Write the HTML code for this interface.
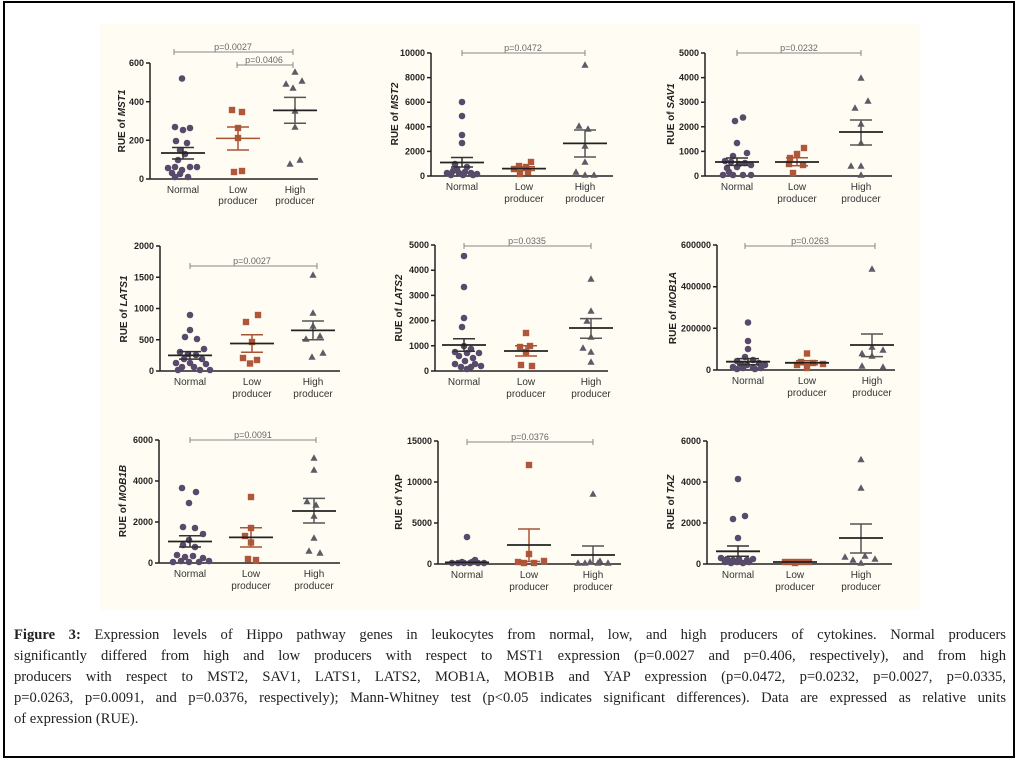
<!DOCTYPE html>
<html><head><meta charset="utf-8"><style>
html,body{margin:0;padding:0;background:#fff}
body{width:1021px;height:762px;position:relative;overflow:hidden}
svg{position:absolute;left:0;top:0}
.tk{font:bold 9px "Liberation Sans",sans-serif;fill:#222;text-anchor:end}
.ttl{font:bold 10px "Liberation Sans",sans-serif;fill:#222;text-anchor:middle}
.cat{font:10px "Liberation Sans",sans-serif;fill:#333;text-anchor:middle}
.pv{font:9px "Liberation Sans",sans-serif;fill:#666;text-anchor:middle}
.ax{stroke:#222;stroke-width:1.5;fill:none}
.pb{stroke:#888;stroke-width:1;fill:none}
.m{stroke:#222;stroke-width:1.8}
.sN{stroke:#333;stroke-width:1.5;fill:none}
.sL{stroke:#a85535;stroke-width:1.5;fill:none}
.sH{stroke:#555;stroke-width:1.5;fill:none}
#cap{position:absolute;left:14px;top:625px;width:992px;font:14.6px "Liberation Serif",serif;color:#222;line-height:21px}
#cap div{text-align:justify;text-align-last:justify;white-space:nowrap}
#cap div.last{text-align-last:left}
</style></head><body>
<svg width="1021" height="762" viewBox="0 0 1021 762">
<defs>
<circle id="c" r="3.3" fill="#574a6b"/>
<rect id="s" x="-3.2" y="-3.2" width="6.4" height="6.4" fill="#b0563a"/>
<polygon id="t" points="0,-3.8 3.6,2.8 -3.6,2.8" fill="#5f5a66"/>
</defs>
<rect x="4" y="2" width="1010" height="755" fill="#fff" stroke="#000" stroke-width="2"/>
<rect x="100" y="24" width="820" height="586" fill="#fffdf3"/>

<!-- MST1 -->
<g transform="translate(150,179)">
<path class="ax" d="M0,-116V0H168M-4,-116H0M-4,-77.3H0M-4,-38.7H0M-4,0H0"/>
<text class="tk" x="-6" y="-113">600</text><text class="tk" x="-6" y="-74">400</text><text class="tk" x="-6" y="-35.5">200</text><text class="tk" x="-6" y="3">0</text>
<text class="ttl" transform="translate(-25,-58) rotate(-90)">RUE of <tspan font-style="italic">MST1</tspan></text>
<path class="pb" d="M24,-127H143M24,-130v6M143,-130v6M87,-114H143M87,-117v6M143,-117v6"/>
<text class="pv" x="83" y="-129">p=0.0027</text><text class="pv" x="114" y="-116">p=0.0406</text>
<use href="#c" x="32" y="-100.5"/><use href="#c" x="25" y="-52"/><use href="#c" x="33" y="-49"/><use href="#c" x="40" y="-51"/><use href="#c" x="26" y="-38"/><use href="#c" x="37" y="-36"/><use href="#c" x="30" y="-29"/><use href="#c" x="35" y="-25"/><use href="#c" x="28" y="-19"/><use href="#c" x="18" y="-11"/><use href="#c" x="25" y="-12"/><use href="#c" x="40" y="-12"/><use href="#c" x="47" y="-12"/><use href="#c" x="32" y="-9"/><use href="#c" x="22" y="-6"/><use href="#c" x="30" y="-5"/><use href="#c" x="25" y="-2"/><use href="#c" x="38" y="-2"/>
<use href="#s" x="82" y="-69"/><use href="#s" x="92" y="-67"/><use href="#s" x="88" y="-51"/><use href="#s" x="88" y="-41"/><use href="#s" x="84" y="-7"/><use href="#s" x="92" y="-8"/>
<use href="#t" x="145" y="-107"/><use href="#t" x="136" y="-95"/><use href="#t" x="143" y="-91"/><use href="#t" x="152" y="-98"/><use href="#t" x="145" y="-68"/><use href="#t" x="145" y="-52"/><use href="#t" x="140" y="-15"/><use href="#t" x="150" y="-19"/>
<path class="sN" d="M22,-20H44M22,-31.5H44M33,-20V-31.5"/><path class="m" d="M11,-26H55"/>
<path class="sL" d="M77,-29H99M77,-52H99M88,-29V-52M66,-40.6H110"/>
<path class="sH" d="M134,-55.7H156M134,-81.6H156M145,-55.7V-81.6"/><path class="m" d="M123,-68.6H167"/>
<text class="cat" x="33" y="14">Normal</text><text class="cat" x="88" y="14">Low</text><text class="cat" x="88" y="25">producer</text><text class="cat" x="145" y="14">High</text><text class="cat" x="145" y="25">producer</text>
</g>

<!-- MST2 -->
<g transform="translate(431,176)">
<path class="ax" d="M0,-123V0H182M-4,-123H0M-4,-98.4H0M-4,-73.8H0M-4,-49.2H0M-4,-24.6H0M-4,0H0"/>
<text class="tk" x="-6" y="-120">10000</text><text class="tk" x="-6" y="-95.4">8000</text><text class="tk" x="-6" y="-70.8">6000</text><text class="tk" x="-6" y="-46.2">4000</text><text class="tk" x="-6" y="-21.6">2000</text><text class="tk" x="-6" y="3">0</text>
<text class="ttl" transform="translate(-33,-62) rotate(-90)">RUE of <tspan font-style="italic">MST2</tspan></text>
<path class="pb" d="M31,-123H154M31,-126v6M154,-126v6"/><text class="pv" x="92" y="-125">p=0.0472</text>
<use href="#c" x="31" y="-74"/><use href="#c" x="31" y="-60"/><use href="#c" x="31" y="-41"/><use href="#c" x="31" y="-33"/><use href="#c" x="24" y="-12"/><use href="#c" x="36" y="-9"/><use href="#c" x="16" y="-3"/><use href="#c" x="22" y="-5"/><use href="#c" x="28" y="-3"/><use href="#c" x="34" y="-4"/><use href="#c" x="40" y="-3"/><use href="#c" x="46" y="-2"/><use href="#c" x="20" y="-1"/><use href="#c" x="32" y="-1"/><use href="#c" x="42" y="-1"/><use href="#c" x="26" y="-7"/>
<use href="#s" x="100" y="-14"/><use href="#s" x="88" y="-10"/><use href="#s" x="95" y="-9"/><use href="#s" x="83" y="-7"/><use href="#s" x="97" y="-4"/><use href="#s" x="89" y="-2"/>
<use href="#t" x="154" y="-111"/><use href="#t" x="148" y="-50"/><use href="#t" x="157" y="-47"/><use href="#t" x="154" y="-30"/><use href="#t" x="154" y="-14"/><use href="#t" x="145" y="-4"/><use href="#t" x="154" y="-1"/><use href="#t" x="163" y="-1"/>
<path class="sN" d="M20,-9H42M20,-18.5H42M31,-9V-18.5"/><path class="m" d="M9,-13.5H53"/>
<path class="sL" d="M82,-5.5H104M82,-9.2H104"/><path class="m" d="M71,-7.4H115"/>
<path class="sH" d="M143,-19H165M143,-46H165M154,-19V-46"/><path class="m" d="M132,-32.6H176"/>
<text class="cat" x="31" y="14">Normal</text><text class="cat" x="93" y="14">Low</text><text class="cat" x="93" y="26">producer</text><text class="cat" x="154" y="14">High</text><text class="cat" x="154" y="26">producer</text>
</g>

<!-- SAV1 -->
<g transform="translate(705,176)">
<path class="ax" d="M0,-123V0H187M-4,-123H0M-4,-98.4H0M-4,-73.8H0M-4,-49.2H0M-4,-24.6H0M-4,0H0"/>
<text class="tk" x="-6" y="-120">5000</text><text class="tk" x="-6" y="-95.4">4000</text><text class="tk" x="-6" y="-70.8">3000</text><text class="tk" x="-6" y="-46.2">2000</text><text class="tk" x="-6" y="-21.6">1000</text><text class="tk" x="-6" y="3">0</text>
<text class="ttl" transform="translate(-31,-62) rotate(-90)">RUE of <tspan font-style="italic">SAV1</tspan></text>
<path class="pb" d="M32,-123H156M32,-126v6M156,-126v6"/><text class="pv" x="94" y="-125">p=0.0232</text>
<use href="#c" x="30" y="-55"/><use href="#c" x="38" y="-58.5"/><use href="#c" x="32" y="-33"/><use href="#c" x="42" y="-23"/><use href="#c" x="28" y="-20"/><use href="#c" x="20" y="-15"/><use href="#c" x="26" y="-14"/><use href="#c" x="34" y="-12"/><use href="#c" x="40" y="-13"/><use href="#c" x="46" y="-11"/><use href="#c" x="32" y="-9"/><use href="#c" x="24" y="-4"/><use href="#c" x="18" y="-1"/><use href="#c" x="28" y="-1"/><use href="#c" x="38" y="-1"/><use href="#c" x="46" y="-1"/><use href="#c" x="22" y="-8"/>
<use href="#s" x="99" y="-28"/><use href="#s" x="92" y="-22"/><use href="#s" x="85" y="-18"/><use href="#s" x="84" y="-12"/><use href="#s" x="98" y="-11"/><use href="#s" x="88" y="-3"/>
<use href="#t" x="156" y="-98"/><use href="#t" x="163" y="-75"/><use href="#t" x="150" y="-68"/><use href="#t" x="156" y="-52"/><use href="#t" x="156" y="-33"/><use href="#t" x="146" y="-10"/><use href="#t" x="156" y="-10"/><use href="#t" x="156" y="-1"/>
<path class="sN" d="M21,-10.6H43M21,-18H43M32,-10.6V-18"/><path class="m" d="M10,-14H54"/>
<path class="sL" d="M81,-10.3H103M81,-18.2H103M92,-10.3V-18.2"/><path class="m" d="M70,-14H114"/>
<path class="sH" d="M145,-31H167M145,-56H167M156,-31V-56"/><path class="m" d="M134,-44H178"/>
<text class="cat" x="32" y="14">Normal</text><text class="cat" x="92" y="14">Low</text><text class="cat" x="92" y="26">producer</text><text class="cat" x="156" y="14">High</text><text class="cat" x="156" y="26">producer</text>
</g>

<!-- LATS1 -->
<g transform="translate(160,371)">
<path class="ax" d="M0,-125V0H180M-4,-125H0M-4,-93.75H0M-4,-62.5H0M-4,-31.25H0M-4,0H0"/>
<text class="tk" x="-6" y="-122">2000</text><text class="tk" x="-6" y="-90.75">1500</text><text class="tk" x="-6" y="-59.5">1000</text><text class="tk" x="-6" y="-28.25">500</text><text class="tk" x="-6" y="3">0</text>
<text class="ttl" transform="translate(-33,-62) rotate(-90)">RUE of <tspan font-style="italic">LATS1</tspan></text>
<path class="pb" d="M30,-105H157M30,-108v6M157,-108v6"/><text class="pv" x="92" y="-107">p=0.0027</text>
<use href="#c" x="30" y="-56"/><use href="#c" x="30" y="-41"/><use href="#c" x="25" y="-34"/><use href="#c" x="37" y="-32"/><use href="#c" x="44" y="-22"/><use href="#c" x="20" y="-19"/><use href="#c" x="28" y="-17"/><use href="#c" x="36" y="-16"/><use href="#c" x="24" y="-12"/><use href="#c" x="42" y="-12"/><use href="#c" x="16" y="-8"/><use href="#c" x="30" y="-8"/><use href="#c" x="46" y="-7"/><use href="#c" x="22" y="-4"/><use href="#c" x="34" y="-4"/><use href="#c" x="18" y="-1"/><use href="#c" x="40" y="-1"/><use href="#c" x="50" y="-1"/>
<use href="#s" x="98" y="-56"/><use href="#s" x="86" y="-49"/><use href="#s" x="92" y="-29"/><use href="#s" x="83" y="-13"/><use href="#s" x="97" y="-11"/><use href="#s" x="90" y="-7.5"/>
<use href="#t" x="153" y="-96"/><use href="#t" x="153" y="-58"/><use href="#t" x="153" y="-45"/><use href="#t" x="146" y="-32"/><use href="#t" x="160" y="-35"/><use href="#t" x="163" y="-18"/><use href="#t" x="152" y="-14"/>
<path class="sN" d="M19,-11.9H41M19,-19.4H41M30,-11.9V-19.4"/><path class="m" d="M8,-15.6H52"/>
<path class="sL" d="M81,-18.8H103M81,-36.3H103M92,-18.8V-36.3"/><path class="m" d="M70,-27.5H114"/>
<path class="sH" d="M142,-31.3H164M142,-50H164M153,-31.3V-50"/><path class="m" d="M131,-40.6H175"/>
<text class="cat" x="30" y="14">Normal</text><text class="cat" x="92" y="14">Low</text><text class="cat" x="92" y="26">producer</text><text class="cat" x="153" y="14">High</text><text class="cat" x="153" y="26">producer</text>
</g>

<!-- LATS2 -->
<g transform="translate(435,371)">
<path class="ax" d="M0,-126V0H173M-4,-126H0M-4,-100.8H0M-4,-75.6H0M-4,-50.4H0M-4,-25.2H0M-4,0H0"/>
<text class="tk" x="-6" y="-123">5000</text><text class="tk" x="-6" y="-97.8">4000</text><text class="tk" x="-6" y="-72.6">3000</text><text class="tk" x="-6" y="-47.4">2000</text><text class="tk" x="-6" y="-22.2">1000</text><text class="tk" x="-6" y="3">0</text>
<text class="ttl" transform="translate(-33,-63) rotate(-90)">RUE of <tspan font-style="italic">LATS2</tspan></text>
<path class="pb" d="M29,-125H156M29,-128v6M156,-128v6"/><text class="pv" x="92" y="-127">p=0.0335</text>
<use href="#c" x="29" y="-115"/><use href="#c" x="29" y="-84"/><use href="#c" x="29" y="-53"/><use href="#c" x="27" y="-44"/><use href="#c" x="29" y="-25"/><use href="#c" x="36" y="-22"/><use href="#c" x="20" y="-19"/><use href="#c" x="32" y="-18"/><use href="#c" x="44" y="-18"/><use href="#c" x="24" y="-15"/><use href="#c" x="38" y="-13"/><use href="#c" x="30" y="-10"/><use href="#c" x="20" y="-7"/><use href="#c" x="46" y="-5"/><use href="#c" x="26" y="-4"/><use href="#c" x="36" y="-4"/><use href="#c" x="32" y="-2"/><use href="#c" x="40" y="-7"/>
<use href="#s" x="91" y="-38"/><use href="#s" x="95" y="-25"/><use href="#s" x="85" y="-24"/><use href="#s" x="91" y="-19"/><use href="#s" x="86" y="-6"/><use href="#s" x="97" y="-5"/>
<use href="#t" x="156" y="-92"/><use href="#t" x="156" y="-60"/><use href="#t" x="152" y="-50"/><use href="#t" x="156" y="-34"/><use href="#t" x="148" y="-23"/><use href="#t" x="156" y="-19"/><use href="#t" x="156" y="-9"/>
<path class="sN" d="M18,-19.7H40M18,-32.3H40M29,-19.7V-32.3"/><path class="m" d="M7,-26H51"/>
<path class="sL" d="M80,-15H102M80,-25.2H102M91,-15V-25.2"/><path class="m" d="M69,-20H113"/>
<path class="sH" d="M145,-32.8H167M145,-52.4H167M156,-32.8V-52.4"/><path class="m" d="M134,-43H178"/>
<text class="cat" x="29" y="14">Normal</text><text class="cat" x="91" y="14">Low</text><text class="cat" x="91" y="26">producer</text><text class="cat" x="156" y="14">High</text><text class="cat" x="156" y="26">producer</text>
</g>

<!-- MOB1A -->
<g transform="translate(717,370)">
<path class="ax" d="M0,-125V0H178M-4,-125H0M-4,-83.3H0M-4,-41.7H0M-4,0H0"/>
<text class="tk" x="-6" y="-122">600000</text><text class="tk" x="-6" y="-80.3">400000</text><text class="tk" x="-6" y="-38.7">200000</text><text class="tk" x="-6" y="3">0</text>
<text class="ttl" transform="translate(-41,-62) rotate(-90)">RUE of <tspan font-style="italic">MOB1A</tspan></text>
<path class="pb" d="M28,-124H158M28,-127v6M158,-127v6"/><text class="pv" x="93" y="-126">p=0.0263</text>
<use href="#c" x="31" y="-47.5"/><use href="#c" x="31" y="-29"/><use href="#c" x="31" y="-21"/><use href="#c" x="28" y="-13"/><use href="#c" x="20" y="-9"/><use href="#c" x="36" y="-10"/><use href="#c" x="24" y="-6"/><use href="#c" x="42" y="-7"/><use href="#c" x="30" y="-5"/><use href="#c" x="48" y="-5"/><use href="#c" x="16" y="-3"/><use href="#c" x="26" y="-2"/><use href="#c" x="36" y="-2"/><use href="#c" x="44" y="-2"/><use href="#c" x="20" y="-1"/><use href="#c" x="38" y="-1"/>
<use href="#s" x="90" y="-16.5"/><use href="#s" x="84" y="-8"/><use href="#s" x="96" y="-7"/><use href="#s" x="106" y="-6"/><use href="#s" x="80" y="-5"/><use href="#s" x="90" y="-2"/>
<use href="#t" x="155" y="-101"/><use href="#t" x="155" y="-23"/><use href="#t" x="166" y="-20"/><use href="#t" x="145" y="-16.5"/><use href="#t" x="155" y="-14"/><use href="#t" x="145" y="-4"/><use href="#t" x="166" y="-3"/>
<path class="sN" d="M20,-5.2H42M20,-11.4H42M31,-5.2V-11.4"/><path class="m" d="M9,-8.3H53"/>
<path class="sL" d="M79,-5.2H101M79,-9.3H101"/><path class="m" d="M68,-7.2H112"/>
<path class="sH" d="M144,-13.4H166M144,-36H166M155,-13.4V-36"/><path class="m" d="M133,-25H177"/>
<text class="cat" x="31" y="14">Normal</text><text class="cat" x="90" y="14">Low</text><text class="cat" x="90" y="26">producer</text><text class="cat" x="155" y="14">High</text><text class="cat" x="155" y="26">producer</text>
</g>

<!-- MOB1B -->
<g transform="translate(159,563)">
<path class="ax" d="M0,-123V0H181M-4,-123H0M-4,-82H0M-4,-41H0M-4,0H0"/>
<text class="tk" x="-6" y="-120">6000</text><text class="tk" x="-6" y="-79">4000</text><text class="tk" x="-6" y="-38">2000</text><text class="tk" x="-6" y="3">0</text>
<text class="ttl" transform="translate(-33,-62) rotate(-90)">RUE of <tspan font-style="italic">MOB1B</tspan></text>
<path class="pb" d="M31,-123H157M31,-126v6M157,-126v6"/><text class="pv" x="94" y="-125">p=0.0091</text>
<use href="#c" x="23" y="-75"/><use href="#c" x="37" y="-71"/><use href="#c" x="30" y="-60"/><use href="#c" x="24" y="-36"/><use href="#c" x="36" y="-35"/><use href="#c" x="44" y="-29"/><use href="#c" x="30" y="-23"/><use href="#c" x="24" y="-18"/><use href="#c" x="36" y="-16"/><use href="#c" x="18" y="-8"/><use href="#c" x="26" y="-6"/><use href="#c" x="34" y="-7"/><use href="#c" x="44" y="-5"/><use href="#c" x="22" y="-2"/><use href="#c" x="30" y="-1"/><use href="#c" x="40" y="-1"/><use href="#c" x="50" y="-2"/><use href="#c" x="14" y="-1"/>
<use href="#s" x="92" y="-66"/><use href="#s" x="92" y="-35"/><use href="#s" x="86" y="-27"/><use href="#s" x="92" y="-20.5"/><use href="#s" x="89" y="-4"/><use href="#s" x="97" y="-3"/>
<use href="#t" x="155" y="-105"/><use href="#t" x="155" y="-93"/><use href="#t" x="148" y="-61.5"/><use href="#t" x="157" y="-58"/><use href="#t" x="155" y="-47"/><use href="#t" x="155" y="-25"/><use href="#t" x="150" y="-12"/><use href="#t" x="161" y="-10"/>
<path class="sN" d="M20,-16H42M20,-27.3H42M31,-16V-27.3"/><path class="m" d="M9,-21.5H53"/>
<path class="sL" d="M81,-16H103M81,-35.3H103M92,-16V-35.3"/><path class="m" d="M70,-25.6H114"/>
<path class="sH" d="M144,-40H166M144,-64.6H166M155,-40V-64.6"/><path class="m" d="M133,-52H177"/>
<text class="cat" x="31" y="14">Normal</text><text class="cat" x="92" y="14">Low</text><text class="cat" x="92" y="26">producer</text><text class="cat" x="155" y="14">High</text><text class="cat" x="155" y="26">producer</text>
</g>

<!-- YAP -->
<g transform="translate(438,564)">
<path class="ax" d="M0,-123V0H183M-4,-123H0M-4,-82H0M-4,-41H0M-4,0H0"/>
<text class="tk" x="-6" y="-120">15000</text><text class="tk" x="-6" y="-79">10000</text><text class="tk" x="-6" y="-38">5000</text><text class="tk" x="-6" y="3">0</text>
<text class="ttl" transform="translate(-36,-62) rotate(-90)">RUE of <tspan>YAP</tspan></text>
<path class="pb" d="M29,-122H155M29,-125v6M155,-125v6"/><text class="pv" x="92" y="-124">p=0.0376</text>
<use href="#c" x="29" y="-27"/><use href="#c" x="37" y="-4"/><use href="#c" x="14" y="-1"/><use href="#c" x="20" y="-1"/><use href="#c" x="26" y="-1"/><use href="#c" x="32" y="-1"/><use href="#c" x="40" y="-1"/><use href="#c" x="46" y="-1"/><use href="#c" x="24" y="-2"/><use href="#c" x="34" y="-2"/>
<use href="#s" x="91" y="-99"/><use href="#s" x="91" y="-10"/><use href="#s" x="106" y="-3"/><use href="#s" x="80" y="-2"/><use href="#s" x="86" y="-1"/><use href="#s" x="96" y="-1"/>
<use href="#t" x="155" y="-70"/><use href="#t" x="162" y="-3"/><use href="#t" x="152" y="-2"/><use href="#t" x="140" y="-1"/><use href="#t" x="147" y="-1"/><use href="#t" x="160" y="-1"/><use href="#t" x="170" y="-1"/>
<path class="m" d="M7,-1.6H51"/>
<path class="sL" d="M80,-2.5H102M80,-35H102M91,-2.5V-35"/><path class="m" d="M69,-19H113"/>
<path class="sH" d="M144,-18H166M155,0V-18"/><path class="m" d="M133,-9H177"/>
<text class="cat" x="29" y="14">Normal</text><text class="cat" x="91" y="14">Low</text><text class="cat" x="91" y="26">producer</text><text class="cat" x="155" y="14">High</text><text class="cat" x="155" y="26">producer</text>
</g>

<!-- TAZ -->
<g transform="translate(707,564)">
<path class="ax" d="M0,-123V0H185M-4,-123H0M-4,-82H0M-4,-41H0M-4,0H0"/>
<text class="tk" x="-6" y="-120">6000</text><text class="tk" x="-6" y="-79">4000</text><text class="tk" x="-6" y="-38">2000</text><text class="tk" x="-6" y="3">0</text>
<text class="ttl" transform="translate(-33,-62) rotate(-90)">RUE of <tspan font-style="italic">TAZ</tspan></text>
<use href="#c" x="31" y="-85"/><use href="#c" x="38" y="-48"/><use href="#c" x="26" y="-45"/><use href="#c" x="31" y="-26"/><use href="#c" x="14" y="-6"/><use href="#c" x="20" y="-5"/><use href="#c" x="26" y="-4"/><use href="#c" x="32" y="-5"/><use href="#c" x="40" y="-4"/><use href="#c" x="46" y="-5"/><use href="#c" x="18" y="-2"/><use href="#c" x="30" y="-2"/><use href="#c" x="42" y="-2"/><use href="#c" x="24" y="-1"/><use href="#c" x="36" y="-1"/>
<use href="#s" x="78" y="-2"/><use href="#s" x="84" y="-2"/><use href="#s" x="90" y="-2"/><use href="#s" x="96" y="-2"/><use href="#s" x="102" y="-2"/><use href="#s" x="88" y="-1"/>
<use href="#t" x="154" y="-104.5"/><use href="#t" x="154" y="-76"/><use href="#t" x="138" y="-7"/><use href="#t" x="158" y="-8"/><use href="#t" x="146" y="-4"/><use href="#t" x="168" y="-5"/><use href="#t" x="154" y="-1"/>
<path class="sN" d="M20,-7.8H42M20,-18H42M31,-7.8V-18"/><path class="m" d="M9,-12.7H53"/>
<path class="m" d="M66,-2H110"/>
<path class="sH" d="M143,-11H165M143,-40H165M154,-11V-40"/><path class="m" d="M132,-26H176"/>
<text class="cat" x="31" y="14">Normal</text><text class="cat" x="88" y="14">Low</text><text class="cat" x="88" y="26">producer</text><text class="cat" x="154" y="14">High</text><text class="cat" x="154" y="26">producer</text>
</g>
</svg>
<div id="cap">
<div><b>Figure 3:</b> Expression levels of Hippo pathway genes in leukocytes from normal, low, and high producers of cytokines. Normal producers</div>
<div>significantly differed from high and low producers with respect to MST1 expression (p=0.0027 and p=0.406, respectively), and from high</div>
<div>producers with respect to MST2, SAV1, LATS1, LATS2, MOB1A, MOB1B and YAP expression (p=0.0472, p=0.0232, p=0.0027, p=0.0335,</div>
<div>p=0.0263, p=0.0091, and p=0.0376, respectively); Mann-Whitney test (p&lt;0.05 indicates significant differences). Data are expressed as relative units</div>
<div class="last">of expression (RUE).</div>
</div>
</body></html>
